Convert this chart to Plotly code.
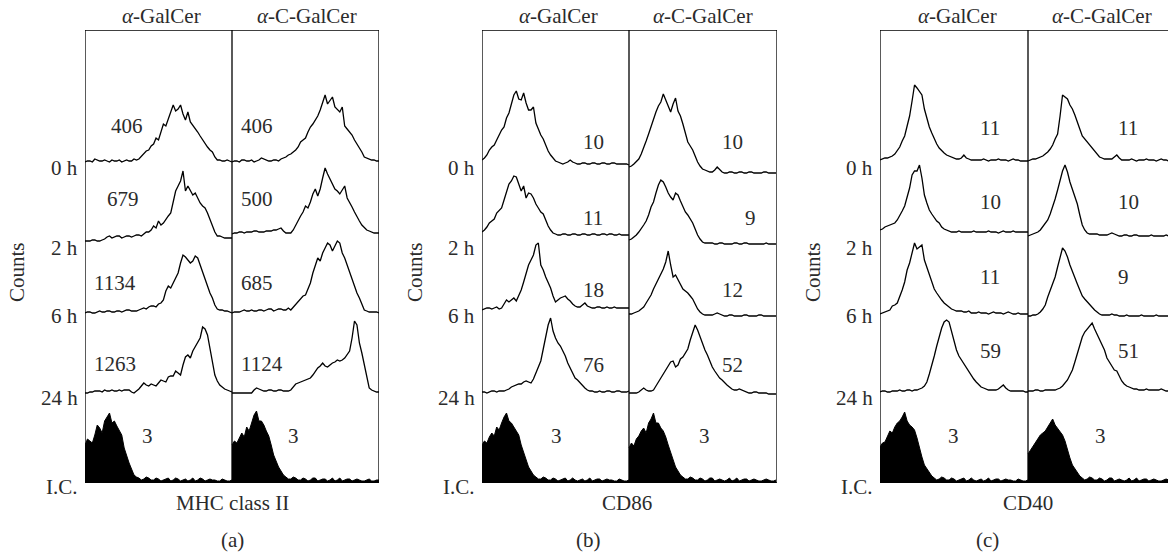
import plotly.graph_objects as go

W, H = 1168, 552

# ---------------- data: histogram counts (61 channels per sub-panel) ----------------
timepoints = ["0 h", "2 h", "6 h", "24 h", "I.C."]
treatments = ["α-GalCer", "α-C-GalCer"]
markers = ["MHC class II", "CD86", "CD40"]
panel_tags = ["(a)", "(b)", "(c)"]

mhc_gal_0h = [0,1,1,0,3,2,1,1,2,1,0,2,1,1,2,0,1,2,1,1,3,2,3,6,8,11,12,16,18,24,22,30,38,36,43,50,57,51,53,57,48,42,50,40,37,33,30,26,22,19,15,12,10,5,2,2,1,1,2,1,0]
mhc_gal_2h = [0,0,0,1,1,0,0,1,2,4,5,3,4,5,5,3,4,5,5,4,5,6,6,5,7,9,9,11,15,13,20,16,18,22,25,28,40,50,55,60,70,50,55,50,46,48,43,38,35,33,28,22,16,9,5,5,4,3,3,3,3]
mhc_gal_6h = [0,1,1,0,0,1,2,1,1,2,2,1,1,2,2,1,2,3,3,2,2,2,3,4,5,4,6,7,7,6,9,10,13,22,27,25,30,35,40,50,58,56,53,50,52,57,55,48,40,34,27,20,15,8,4,3,3,2,2,1,0]
mhc_gal_24h = [0,0,1,1,2,2,2,1,3,2,2,3,2,2,3,2,3,3,3,1,0,2,4,7,10,8,7,9,8,7,10,13,12,11,16,17,17,22,20,18,28,36,38,35,42,46,50,55,66,64,58,45,28,18,12,8,6,4,3,2,1]
mhc_gal_ic = [38,44,42,40,48,58,55,50,62,66,70,60,62,57,52,48,35,27,20,14,8,6,5,3,4,6,5,3,3,5,4,2,3,4,5,2,3,5,4,2,3,4,2,3,5,2,3,5,4,2,3,4,3,3,2,2,4,3,2,2,3]

mhc_cgal_0h = [0,1,1,0,2,2,1,1,2,0,1,2,4,3,2,1,1,2,2,1,3,4,5,7,8,10,12,15,20,22,24,30,35,38,42,46,52,60,67,58,62,65,55,52,50,55,36,33,30,27,22,18,15,10,5,4,3,2,2,1,1]
mhc_cgal_2h = [0,1,1,2,2,1,2,2,2,3,3,2,2,2,3,3,3,4,4,5,6,3,1,1,1,4,9,14,18,22,28,26,32,40,45,38,45,56,66,60,55,50,45,43,40,44,48,36,32,27,22,17,13,9,6,4,3,2,1,1,1]
mhc_cgal_6h = [0,1,1,1,2,3,2,2,3,2,2,3,3,2,3,4,4,2,3,4,4,3,3,5,3,6,8,11,14,17,18,24,30,40,48,55,52,60,65,70,68,62,67,72,70,60,55,48,40,33,27,20,15,8,3,2,1,1,1,1,0]
mhc_cgal_24h = [0,0,0,0,0,0,0,0,0,3,5,4,3,2,2,3,3,2,2,3,3,2,2,2,3,6,9,10,11,12,13,14,15,18,22,25,27,30,27,26,28,30,31,33,32,33,35,38,42,55,72,68,50,40,28,15,5,3,2,1,1]
mhc_cgal_ic = [38,42,40,45,50,46,56,52,60,68,72,62,62,58,52,47,38,28,22,16,12,8,6,4,4,6,5,3,3,5,4,2,3,5,5,2,3,4,4,2,3,5,2,3,5,2,3,4,4,2,3,4,3,2,2,3,4,2,2,3,3]

cd86_gal_0h = [5,7,10,15,18,20,25,30,35,38,47,52,62,70,74,66,65,72,62,55,55,58,42,35,30,26,20,14,10,7,4,3,2,1,2,3,5,3,2,1,1,2,2,1,1,2,2,1,1,2,2,1,1,2,2,1,1,1,1,1,0]
cd86_gal_2h = [4,6,9,13,15,17,23,26,28,36,44,52,55,60,59,52,45,50,38,43,42,38,32,28,24,22,16,10,6,3,2,1,1,2,2,1,1,2,2,1,1,2,2,1,1,2,2,1,1,2,2,1,2,2,1,1,2,1,1,1,1]
cd86_gal_6h = [0,1,2,2,1,2,3,1,2,6,10,8,10,12,9,14,20,28,38,45,50,55,65,67,45,40,33,28,22,14,8,10,12,13,14,11,9,6,4,3,3,5,7,4,3,2,2,3,3,2,2,3,2,2,3,2,2,2,2,2,2]
cd86_gal_24h = [1,1,0,1,2,2,1,2,2,2,3,4,6,7,8,9,9,11,12,11,10,14,20,26,32,44,55,68,75,62,55,50,47,42,37,30,25,20,15,13,10,7,5,3,2,2,1,1,2,1,1,2,2,1,1,2,2,1,1,1,2]
cd86_gal_ic = [38,42,40,46,50,47,56,53,60,66,70,62,60,56,52,48,38,30,22,16,12,8,6,4,4,6,5,3,3,5,4,2,3,4,5,2,3,5,3,2,3,4,2,3,5,2,3,4,4,2,3,4,3,3,2,2,4,3,2,2,3]

cd86_cgal_0h = [7,8,10,13,15,20,26,33,40,48,55,62,68,72,80,74,68,62,70,76,63,58,50,40,32,28,24,18,12,8,5,4,3,2,2,4,7,4,2,1,1,2,2,1,1,2,2,1,1,2,2,1,1,1,1,2,2,1,1,1,1]
cd86_cgal_2h = [5,6,8,10,13,16,20,24,30,38,43,52,60,65,63,58,52,48,45,52,50,44,38,33,30,26,22,16,10,6,3,2,2,2,2,1,1,2,2,1,1,1,1,2,2,1,1,2,2,1,1,1,1,1,1,1,2,1,1,1,1]
cd86_cgal_6h = [3,3,4,5,6,8,10,14,18,22,28,33,38,44,48,55,66,52,40,42,37,32,28,26,24,21,18,13,8,5,3,2,2,2,2,3,4,3,2,1,1,2,2,1,1,1,1,2,2,1,1,1,1,2,2,1,1,1,1,1,1]
cd86_cgal_24h = [2,2,2,2,3,5,7,5,4,4,5,9,13,17,22,26,30,33,34,28,30,36,38,42,46,55,63,70,65,58,50,45,40,33,28,24,20,17,15,12,10,8,6,5,5,6,5,4,3,2,2,3,3,2,2,2,2,1,1,1,1]
cd86_cgal_ic = [35,40,37,44,47,52,55,50,60,64,70,60,60,55,52,46,38,30,22,16,12,8,6,4,4,6,5,3,3,5,4,2,3,5,5,2,3,4,3,2,3,5,2,3,5,2,3,4,4,2,3,4,3,2,2,3,4,3,2,2,3]

cd40_gal_0h = [1,2,3,3,4,5,7,10,14,20,25,35,45,60,76,73,70,66,52,42,34,28,22,17,13,10,8,6,5,4,3,2,2,3,6,3,2,1,1,1,1,1,2,1,0,1,1,1,2,1,1,1,0,1,2,1,1,0,0,0,0]
cd40_gal_2h = [3,4,6,7,8,9,10,13,17,22,27,35,45,58,62,62,68,55,38,30,23,19,15,12,10,6,4,3,2,1,1,1,2,1,1,1,1,1,2,1,1,1,1,1,2,1,1,1,0,1,2,1,1,1,2,1,1,1,1,1,1]
cd40_gal_6h = [1,2,3,4,5,9,10,12,18,25,33,45,52,63,72,66,68,70,55,48,40,33,26,22,18,15,12,10,8,6,5,4,4,4,3,3,4,2,2,2,3,2,2,2,1,2,3,2,2,2,1,2,3,2,1,1,2,1,1,1,1]
cd40_gal_24h = [0,1,1,0,0,1,1,1,2,1,1,2,2,1,2,2,3,4,6,10,18,26,36,46,55,64,70,72,70,60,50,42,36,32,28,24,20,16,13,10,7,5,4,3,2,2,2,2,3,5,7,4,2,1,1,1,1,1,1,0,0]
cd40_gal_ic = [36,40,41,46,52,50,56,60,62,66,71,62,58,56,53,45,34,26,18,14,10,7,5,3,4,6,5,3,3,5,4,2,3,4,5,2,3,5,3,2,3,4,2,3,5,2,3,4,4,2,3,4,3,3,2,2,4,3,2,2,3]

cd40_cgal_0h = [0,1,2,2,3,4,5,7,9,12,16,22,27,45,66,64,62,56,52,46,40,32,25,22,19,15,12,9,6,4,3,2,2,2,2,4,6,3,1,1,1,1,2,1,0,1,1,1,2,1,1,1,0,1,2,1,1,0,0,0,0]
cd40_cgal_2h = [1,2,3,4,5,7,10,13,17,23,30,38,47,57,66,72,65,55,48,40,33,22,12,7,4,3,3,3,3,2,2,2,2,3,4,3,2,1,1,2,2,1,1,2,2,1,1,1,1,1,2,1,1,1,1,1,2,1,1,1,1]
cd40_cgal_6h = [1,1,2,2,3,5,8,12,20,27,33,40,50,60,69,66,60,52,45,38,33,27,21,18,15,12,10,7,5,3,2,2,2,2,3,2,2,1,1,1,2,1,1,1,1,1,2,1,1,1,1,1,2,1,1,1,1,1,1,1,1]
cd40_cgal_24h = [1,1,1,2,2,1,1,2,2,2,2,2,3,4,6,9,12,17,22,30,38,46,55,60,63,65,69,63,58,52,48,42,34,30,25,22,21,16,11,8,6,5,4,3,3,2,2,2,3,2,2,2,2,2,3,2,1,1,1,1,1]
cd40_cgal_ic = [29,33,36,40,45,48,50,52,56,60,64,58,55,52,48,42,32,25,18,14,10,7,5,3,4,6,5,3,3,5,4,2,3,5,5,2,3,4,3,2,3,5,2,3,5,2,3,4,4,2,3,4,3,2,2,3,4,3,2,2,3]

mfi_mhc_gal = [406, 679, 1134, 1263, 3]
mfi_mhc_cgal = [406, 500, 685, 1124, 3]
mfi_cd86_gal = [10, 11, 18, 76, 3]
mfi_cd86_cgal = [10, 9, 12, 52, 3]
mfi_cd40_gal = [11, 10, 11, 59, 3]
mfi_cd40_cgal = [11, 10, 9, 51, 3]

hists = [
    [[mhc_gal_0h, mhc_gal_2h, mhc_gal_6h, mhc_gal_24h, mhc_gal_ic],
     [mhc_cgal_0h, mhc_cgal_2h, mhc_cgal_6h, mhc_cgal_24h, mhc_cgal_ic]],
    [[cd86_gal_0h, cd86_gal_2h, cd86_gal_6h, cd86_gal_24h, cd86_gal_ic],
     [cd86_cgal_0h, cd86_cgal_2h, cd86_cgal_6h, cd86_cgal_24h, cd86_cgal_ic]],
    [[cd40_gal_0h, cd40_gal_2h, cd40_gal_6h, cd40_gal_24h, cd40_gal_ic],
     [cd40_cgal_0h, cd40_cgal_2h, cd40_cgal_6h, cd40_cgal_24h, cd40_cgal_ic]],
]
mfis = [[mfi_mhc_gal, mfi_mhc_cgal], [mfi_cd86_gal, mfi_cd86_cgal], [mfi_cd40_gal, mfi_cd40_cgal]]

# ---------------- layout geometry (pixels) ----------------
TOP, BOT = 30, 483
panel_left = [85, 482, 880]
panel_div = [232, 629, 1028]
panel_right = [379, 777, 1176]
row_base = [
    [[162, 241, 313, 393, BOT], [162, 234, 313, 393, BOT]],
    [[165, 236, 310, 393, BOT], [174, 245, 317, 395, BOT]],
    [[161, 233, 315, 392, BOT], [161, 237, 317, 392, BOT]],
]
label_pos = [
    [[(127, 126), (123, 199), (115, 283), (115, 364), (147, 436)],
     [(257, 126), (257, 199), (257, 283), (262, 364), (293, 436)]],
    [[(593, 142), (593, 218), (593, 290), (593, 365), (556, 436)],
     [(732, 142), (750, 218), (732, 290), (732, 365), (704, 436)]],
    [[(990, 128), (990, 202), (990, 277), (990, 351), (953, 436)],
     [(1128, 128), (1128, 202), (1123, 277), (1128, 351), (1100, 436)]],
]
row_label_y = [168, 248, 316, 398, 487]
header_x = [(161, 307), (558, 703), (957, 1102)]
counts_x = [17, 415, 813]
title_x = [232, 627, 1028]
tag_x = [232, 588, 987]

FONT = "Liberation Serif"
FS = 21
TXT = "#2b2b2b"

fig = go.Figure()
layout_axes = {}
shapes = []
annotations = []

def pxx(px):
    return px / W

def pxy(py):
    return 1 - py / H

def note(px, py, text, anchor="center", angle=0):
    annotations.append(dict(x=pxx(px), y=pxy(py), xref="paper", yref="paper", text=text,
                            showarrow=False, xanchor=anchor, yanchor="middle", textangle=angle,
                            font=dict(family=FONT, size=FS, color=TXT)))

YR = BOT - TOP
for p in range(3):
    suffix = "" if p == 0 else str(p + 1)
    xa, ya = "x" + suffix, "y" + suffix
    sub_w = panel_div[p] - panel_left[p]
    vis_right = min(panel_right[p], W)
    xmax = (vis_right - panel_left[p]) / sub_w
    layout_axes["xaxis" + suffix] = dict(domain=[pxx(panel_left[p]), pxx(vis_right)], range=[0, xmax],
                                         visible=False, fixedrange=True)
    layout_axes["yaxis" + suffix] = dict(domain=[pxy(BOT), pxy(TOP)], range=[0, YR],
                                         visible=False, fixedrange=True)
    for s in range(2):
        for r in range(5):
            vals = hists[p][s][r]
            n = len(vals)
            off = BOT - row_base[p][s][r]
            xs = [s + i / (n - 1) for i in range(n)]
            ys = [off + v for v in vals]
            if r == 4:
                fig.add_trace(go.Scatter(x=xs, y=ys, mode="lines", xaxis=xa, yaxis=ya,
                                         line=dict(color="black", width=1),
                                         fill="tozeroy", fillcolor="black",
                                         hoverinfo="skip", showlegend=False))
            else:
                fig.add_trace(go.Scatter(x=xs, y=ys, mode="lines", xaxis=xa, yaxis=ya,
                                         line=dict(color="black", width=1.3),
                                         hoverinfo="skip", showlegend=False))
            lx, ly = label_pos[p][s][r]
            note(lx, ly, str(mfis[p][s][r]))
        note(header_x[p][s], 16, treatments[s].replace("α", "<i>α</i>"))
    lw = 1.3
    frame = [(0, 0, 0, YR), (1, 1, 0, YR), (0, xmax, YR, YR), (0, xmax, 0, 0)]
    if panel_right[p] <= W:
        frame.append((xmax, xmax, 0, YR))
    for x0, x1, y0, y1 in frame:
        shapes.append(dict(type="line", xref=xa, yref=ya, x0=x0, x1=x1, y0=y0, y1=y1,
                           line=dict(color="black", width=lw)))
    for r in range(5):
        note(panel_left[p] - 5, row_label_y[r], timepoints[r], anchor="right")
    note(counts_x[p], 272, "Counts", angle=-90)
    note(title_x[p], 503, markers[p])
    note(tag_x[p], 540, panel_tags[p])

fig.update_layout(width=W, height=H, margin=dict(l=0, r=0, t=0, b=0),
                  paper_bgcolor="white", plot_bgcolor="rgba(0,0,0,0)",
                  shapes=shapes, annotations=annotations, showlegend=False, **layout_axes)
fig.write_html("out.html", config={"displayModeBar": False})
